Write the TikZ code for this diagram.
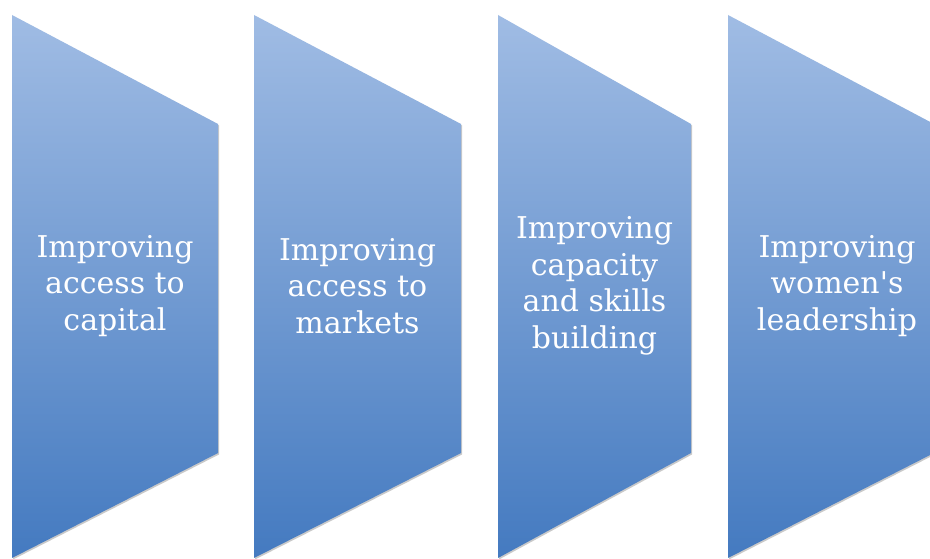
\documentclass[tikz,border=0pt]{standalone}
\usepackage{fontspec}
\newfontfamily\boxfont{DejaVu Serif}
\usetikzlibrary{shadows}
\definecolor{boxtop}{RGB}{160,188,228}
\definecolor{boxmid}{RGB}{134,168,218}
\definecolor{boxbot}{RGB}{68,122,192}
\tikzset{
	chevron/.style={top color=boxtop, middle color=boxmid, bottom color=boxbot, draw=none,
		drop shadow={opacity=0.35, fill=black!60, shadow xshift=1pt, shadow yshift=-1.5pt}},
	boxtext/.style={text=white, align=center, font=\boxfont\fontsize{30}{36.5}\selectfont}
}
\begin{document}
\begin{tikzpicture}[x=1pt, y=1pt]
		%%%%% START %%%%%
		
		\useasboundingbox (0, 0) rectangle (930, 559);
		\clip (0, 0) rectangle (930, 559);
		
		\fill[white] (0, 0) rectangle (930, 559);
		
		\path[chevron] (12, 544) -- (218, 435) -- (218, 106) -- (12, 1) -- cycle;
		\node[boxtext] (capital) at (115, 273) {Improving\\access to\\capital};
		
		\path[chevron] (254, 544) -- (461, 435) -- (461, 106) -- (254, 1) -- cycle;
		\node[boxtext] (markets) at (357.5, 273) {Improving\\access to\\markets};
		
		\path[chevron] (498, 544) -- (691, 435) -- (691, 106) -- (498, 1) -- cycle;
		\node[boxtext] (skills) at (594.5, 273) {Improving\\capacity\\and skills\\building};
		
		\path[chevron] (728, 544) -- (934, 435) -- (934, 106) -- (728, 1) -- cycle;
		\node[boxtext] (leadership) at (837, 273) {Improving\\women\textquotesingle s\\leadership};
		
		%%%%% END %%%%%
	\end{tikzpicture}
\end{document}
